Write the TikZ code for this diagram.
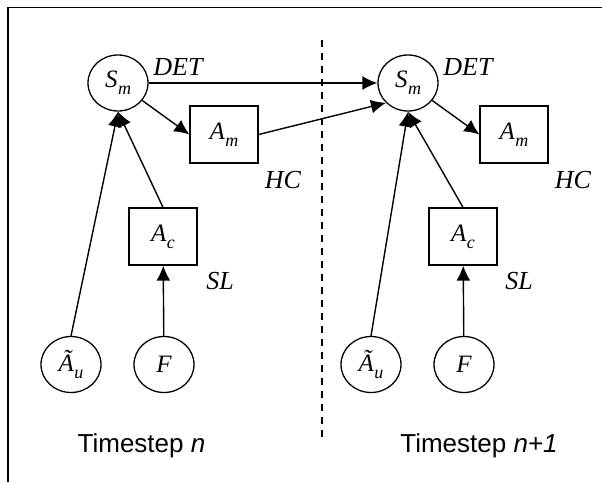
\documentclass[tikz,border=0pt]{standalone}
\usepackage{fontspec}
\setmainfont{Liberation Serif}
\newfontfamily\labelsans{Liberation Sans}
\usetikzlibrary{arrows.meta,shapes.geometric}
% italic variable with a lowered subscript
\newcommand{\varsub}[2]{{\fontsize{25}{25}\selectfont\itshape #1}\kern0.5pt\raisebox{-7pt}{\fontsize{18}{18}\selectfont\itshape #2}}

\begin{document}
\begin{tikzpicture}[x=1pt,y=-1pt,
  every node/.style={inner sep=0pt},
  statenode/.style={ellipse,draw,line width=1.3pt,minimum width=60pt,minimum height=56pt},
  boxnode/.style={rectangle,draw,line width=1.3pt,minimum width=68pt,minimum height=57pt},
  tag/.style={font=\fontsize{26}{26}\selectfont\itshape},
  link/.style={line width=1.4pt,-{Latex[length=15pt,width=14pt]}},
  caption/.style={font=\labelsans\fontsize{26}{26}\selectfont,anchor=base}]
\useasboundingbox (0,0) rectangle (602,482);
\draw[line width=1.8pt] (8,482) -- (8,7.5) -- (602,7.5);

% separator between the two timesteps
\coordinate (sepTop) at (322,40);
\coordinate (sepBot) at (322,440);
\draw[line width=1.2pt,dash pattern=on 7pt off 6pt] (sepTop) -- (sepBot);

% timestep n
\node[statenode] (Sm1) at (118,83) {\varsub{S}{m}};
\node[boxnode] (Am1) at (224,134.5) {\varsub{A}{m}};
\node[boxnode] (Ac1) at (163,236.5) {\varsub{A}{c}};
\node[statenode] (Au1) at (71,364.5) {\varsub{\~A}{u}};
\node[statenode] (F1) at (164,364.5) {{\fontsize{25}{25}\selectfont\itshape F}};
\node[tag] (det1) at (178,67.5) {DET};
\node[tag] (hc1) at (283,180) {HC};
\node[tag] (sl1) at (220,281.5) {SL};
\node[caption] (cap1) at (141.5,452) {Timestep \textit{n}};

% timestep n+1
\node[statenode] (Sm2) at (408,83) {\varsub{S}{m}};
\node[boxnode] (Am2) at (514,134.5) {\varsub{A}{m}};
\node[boxnode] (Ac2) at (463,236.5) {\varsub{A}{c}};
\node[statenode] (Au2) at (371,364.5) {\varsub{\~A}{u}};
\node[statenode] (F2) at (464,364.5) {{\fontsize{25}{25}\selectfont\itshape F}};
\node[tag] (det2) at (468,67.5) {DET};
\node[tag] (hc2) at (573,180) {HC};
\node[tag] (sl2) at (519,281.5) {SL};
\node[caption] (cap2) at (479,452) {Timestep \textit{n+1}};

% dependencies
\draw[link] (Sm1) -- (Sm2);
\draw[link] (Am1.east) -- (Sm2.222);
\draw[link] (Sm1) -- (Am1.west);
\draw[link] (Au1.north) -- (Sm1.south);
\draw[link] (Ac1.north) -- (Sm1.south);
\draw[link] (F1) -- (Ac1);
\draw[link] (Sm2) -- (Am2.west);
\draw[link] (Au2.north) -- (Sm2.south);
\draw[link] (Ac2.north) -- (Sm2.south);
\draw[link] (F2) -- (Ac2);
\end{tikzpicture}
\end{document}
